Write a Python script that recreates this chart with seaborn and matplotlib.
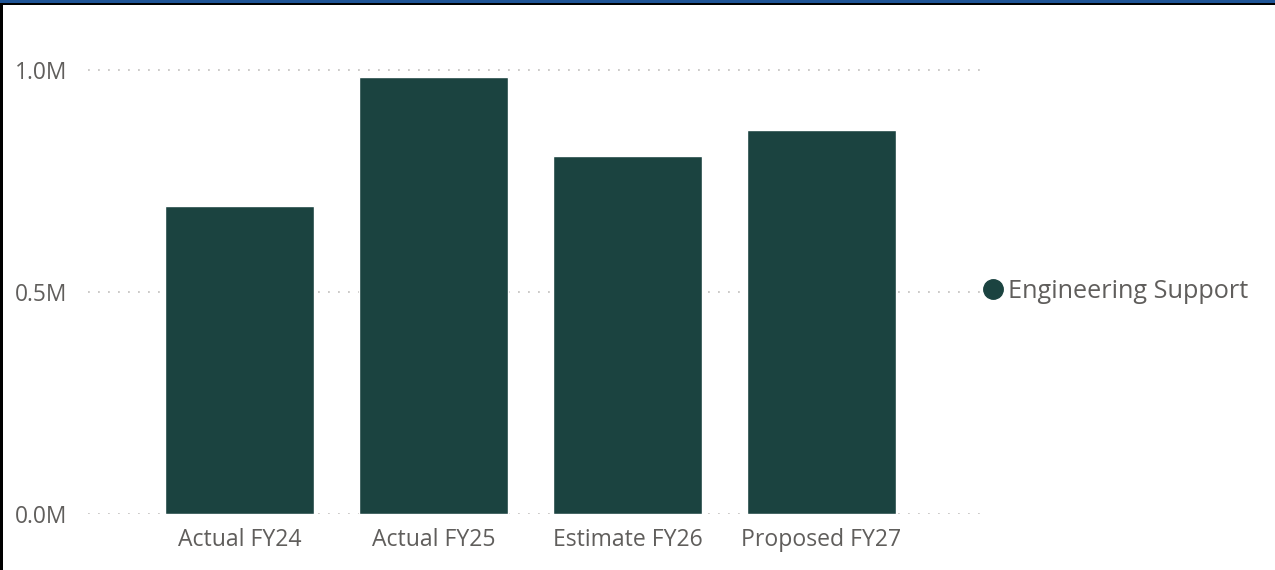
import matplotlib
matplotlib.use("Agg")
import matplotlib.pyplot as plt
from matplotlib.lines import Line2D
from matplotlib.patches import Rectangle
from matplotlib.ticker import FuncFormatter
import seaborn as sns
import pandas as pd

# Budget by fiscal year
categories = ["Actual FY24", "Actual FY25", "Estimate FY26", "Proposed FY27"]
values = [694000, 984000, 806000, 865000]
series_name = "Engineering Support"
y_ticks = [0, 500000, 1000000]

BAR_COLOR = "#1B4340"
TEXT_COLOR = "#605E5C"
GRID_COLOR = "#C8C6C4"

sns.set_theme(style="white")
plt.rcParams["font.family"] = ["Open Sans", "DejaVu Sans"]
plt.rcParams["lines.scale_dashes"] = False

df = pd.DataFrame({"category": categories, "value": values})

W, H = 1275, 570
fig = plt.figure(figsize=(W / 100, H / 100), dpi=100)
fig.patch.set_facecolor("white")

# axes in pixel terms: left 88, right 980, baseline 514
y_top = 1050000
px_per_unit = 444 / 1000000
top_px = 514 - y_top * px_per_unit
ax = fig.add_axes([88 / W, (H - 514) / H, (980 - 88) / W, (514 - top_px) / H])

sns.barplot(data=df, x="category", y="value", color=BAR_COLOR, width=0.768,
            saturation=1, ax=ax, zorder=3)

ax.set_xlim(-0.781, 3.817)
ax.set_ylim(0, y_top)
ax.set_yticks(y_ticks)
ax.yaxis.set_major_formatter(FuncFormatter(lambda v, _: f"{v / 1e6:.1f}M"))

ax.grid(axis="y", color=GRID_COLOR, linewidth=1.3, linestyle=(0, (1.3, 5.9)), zorder=0)
ax.grid(axis="x", visible=False)
for s in ax.spines.values():
    s.set_visible(False)

ax.set_xlabel("")
ax.set_ylabel("")
ax.tick_params(axis="x", length=0, labelsize=16.6, colors=TEXT_COLOR, pad=10)
ax.tick_params(axis="y", length=0, labelsize=16.4, colors=TEXT_COLOR, pad=15)

handle = Line2D([], [], marker="o", linestyle="none", markersize=14,
                markerfacecolor=BAR_COLOR, markeredgecolor=BAR_COLOR)
fig.legend([handle], [series_name], loc="center left",
           bbox_to_anchor=(978 / W, (H - 291) / H), frameon=False,
           handletextpad=0.0, handlelength=1.2, borderaxespad=0, borderpad=0,
           fontsize=18.2, labelcolor=TEXT_COLOR)

# frame edges
fig.patches.append(Rectangle((0, 0), 3 / W, 1, transform=fig.transFigure,
                             facecolor="black", edgecolor="none", zorder=10))
fig.patches.append(Rectangle((0, 1 - 5 / H), 1, 2 / H, transform=fig.transFigure,
                             facecolor="black", edgecolor="none", zorder=10))
fig.patches.append(Rectangle((0, 1 - 3 / H), 1, 3 / H, transform=fig.transFigure,
                             facecolor="#1F5496", edgecolor="none", zorder=11))

fig.savefig("out.png", dpi=100, facecolor="white")
